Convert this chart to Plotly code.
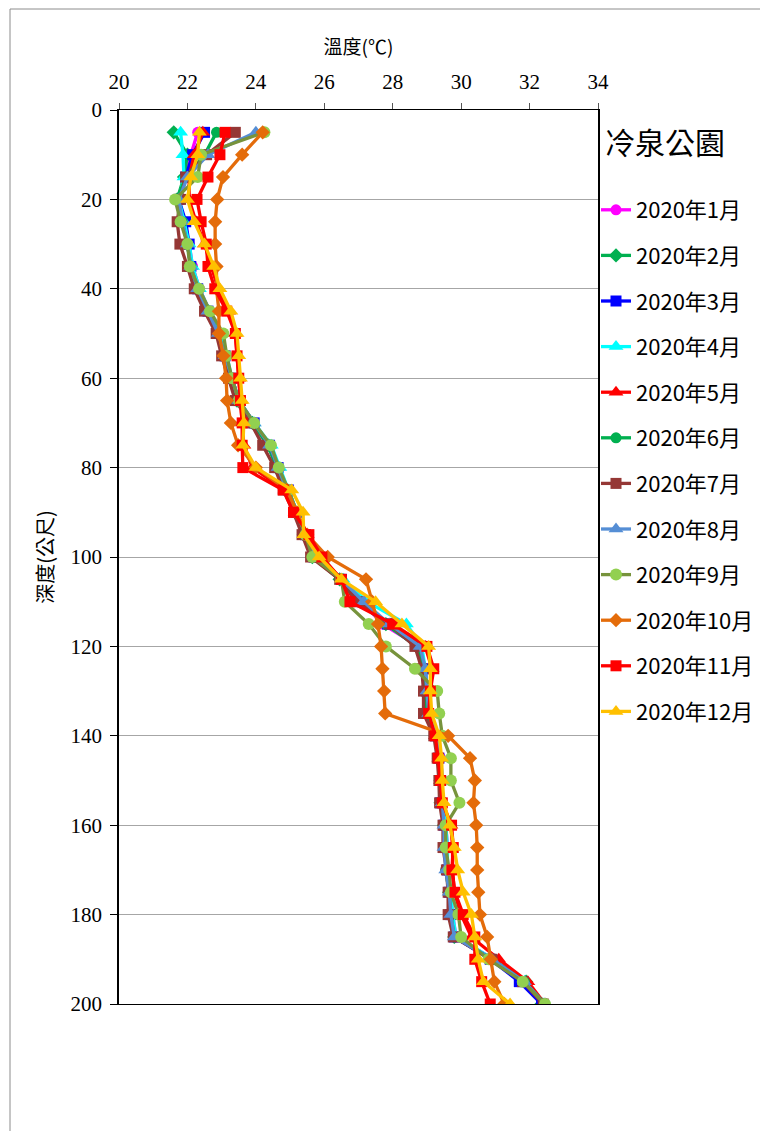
import plotly.graph_objects as go

depths = [5, 10, 15, 20, 25, 30, 35, 40, 45, 50, 55, 60, 65, 70, 75, 80, 85, 90, 95, 100,
          105, 110, 115, 120, 125, 130, 135, 140, 145, 150, 155, 160, 165, 170, 175, 180, 185, 190, 195, 200]

jan = [22.3, 22.1, 21.95, 21.75, 21.9, 22.05, 22.15, 22.35, 22.65, 22.95, 23.1, 23.3, 23.5, 23.9, 24.35, 24.65, 24.9, 25.2, 25.45, 25.7,
       26.5, 27.1, 27.7, 28.75, 28.95, 29.0, 29.05, 29.3, 29.4, 29.45, 29.45, 29.55, 29.6, 29.55, 29.7, 29.75, 29.85, 30.95, 31.85, 32.4]
feb = [21.6, 22.0, 21.9, 21.7, 21.85, 22.0, 22.1, 22.3, 22.6, 22.9, 23.1, 23.25, 23.45, 23.9, 24.35, 24.6, 24.9, 25.15, 25.4, 25.65,
       26.45, 27.05, 27.8, 28.7, 28.9, 28.95, 29.0, 29.25, 29.35, 29.4, 29.4, 29.5, 29.55, 29.6, 29.65, 29.7, 29.8, 30.9, 31.9, 32.35]
mar = [22.5, 22.15, 21.95, 21.75, 21.95, 22.05, 22.1, 22.3, 22.6, 22.9, 23.1, 23.3, 23.5, 23.95, 24.4, 24.65, 24.95, 25.2, 25.45, 25.7,
       26.5, 27.1, 27.85, 28.8, 28.95, 29.0, 29.0, 29.25, 29.35, 29.4, 29.4, 29.5, 29.55, 29.6, 29.65, 29.7, 29.8, 30.85, 31.7, 32.35]
apr = [21.8, 21.87, 21.9, 21.75, 21.9, 22.05, 22.15, 22.35, 22.65, 22.95, 23.15, 23.3, 23.5, 23.95, 24.45, 24.7, 24.95, 25.2, 25.45, 25.7,
       26.55, 27.25, 28.4, 28.85, 28.95, 29.0, 29.05, 29.3, 29.4, 29.45, 29.45, 29.55, 29.6, 29.6, 29.7, 29.75, 29.85, 30.95, 31.85, 32.4]
may = [22.45, 22.2, 22.05, 22.05, 22.25, 22.5, 22.7, 22.9, 23.2, 23.4, 23.45, 23.5, 23.55, 23.6, 23.65, 23.9, 24.85, 25.15, 25.5, 25.9,
       26.5, 26.9, 27.95, 28.95, 29.15, 29.1, 29.1, 29.25, 29.35, 29.4, 29.45, 29.7, 29.75, 29.75, 29.8, 30.0, 30.3, 31.1, 31.95, 32.45]
jun = [22.85, 22.5, 21.95, 21.7, 21.85, 22.0, 22.1, 22.3, 22.6, 22.9, 23.1, 23.3, 23.5, 23.9, 24.4, 24.65, 24.9, 25.15, 25.4, 25.65,
       26.45, 27.0, 27.8, 28.7, 28.9, 28.95, 29.0, 29.25, 29.35, 29.4, 29.4, 29.5, 29.55, 29.55, 29.65, 29.7, 29.8, 30.9, 31.85, 32.45]
jul = [23.4, 22.56, 21.95, 21.8, 21.7, 21.78, 22.0, 22.2, 22.5, 22.84, 23.0, 23.2, 23.4, 23.85, 24.2, 24.55, 24.8, 25.1, 25.35, 25.6,
       26.45, 27.0, 27.9, 28.65, 28.85, 28.9, 28.9, 29.2, 29.3, 29.35, 29.37, 29.47, 29.47, 29.57, 29.62, 29.62, 29.77, 30.9, 31.8, 32.4]
aug = [24.0, 22.6, 22.0, 21.75, 21.85, 22.0, 22.1, 22.3, 22.6, 22.9, 23.1, 23.3, 23.5, 23.95, 24.4, 24.65, 24.9, 25.2, 25.45, 25.7,
       26.5, 27.15, 27.9, 28.8, 28.95, 29.0, 29.05, 29.3, 29.4, 29.45, 29.45, 29.5, 29.5, 29.55, 29.65, 29.7, 29.8, 30.9, 31.85, 32.45]
sep = [24.25, 22.4, 22.3, 21.64, 21.8, 22.0, 22.07, 22.34, 22.66, 23.05, 23.15, 23.3, 23.5, 23.95, 24.44, 24.67, 24.95, 25.2, 25.45, 25.65,
       26.5, 26.6, 27.3, 27.8, 28.65, 29.3, 29.36, 29.45, 29.7, 29.7, 29.95, 29.55, 29.55, 29.65, 29.7, 29.92, 30.0, 30.8, 31.8, 32.45]
oct_ = [24.2, 23.6, 23.04, 22.87, 22.81, 22.81, 22.85, 22.85, 22.92, 22.92, 23.05, 23.13, 23.16, 23.27, 23.48, 24.0, 24.9, 25.2, 25.5, 26.1,
        27.22, 27.4, 27.57, 27.66, 27.7, 27.75, 27.78, 29.62, 30.26, 30.4, 30.36, 30.44, 30.47, 30.47, 30.5, 30.55, 30.76, 30.87, 30.97, 31.26]
nov = [23.1, 22.95, 22.6, 22.28, 22.4, 22.55, 22.6, 22.8, 23.15, 23.4, 23.45, 23.5, 23.55, 23.6, 23.6, 23.62, 24.8, 25.1, 25.55, 25.93,
       26.5, 26.75, 28.0, 29.0, 29.2, 29.1, 29.05, 29.24, 29.33, 29.4, 29.45, 29.72, 29.77, 29.73, 29.82, 30.06, 30.4, 30.4, 30.6, 30.85]
dec = [22.35, 22.3, 22.1, 22.0, 22.2, 22.5, 22.77, 22.95, 23.27, 23.45, 23.5, 23.55, 23.6, 23.65, 23.62, 24.0, 25.05, 25.38, 25.4, 25.85,
       26.5, 27.5, 28.27, 29.05, 29.1, 29.1, 29.14, 29.36, 29.43, 29.45, 29.5, 29.67, 29.8, 29.9, 30.06, 30.3, 30.4, 30.5, 30.65, 31.43]

names = ["2020年1月", "2020年2月", "2020年3月", "2020年4月", "2020年5月", "2020年6月",
         "2020年7月", "2020年8月", "2020年9月", "2020年10月", "2020年11月", "2020年12月"]
series = [jan, feb, mar, apr, may, jun, jul, aug, sep, oct_, nov, dec]
line_colors = ["#FF00FF", "#00B050", "#0000FF", "#00FFFF", "#FF0000", "#00B050",
               "#953735", "#558ED5", "#77933C", "#E46C0A", "#FF0000", "#FFC000"]
marker_colors = ["#FF00FF", "#00B050", "#0000FF", "#00FFFF", "#FF0000", "#00B050",
                 "#953735", "#558ED5", "#92D050", "#E46C0A", "#FF0000", "#FFC000"]
symbols = ["circle", "diamond", "square", "triangle-up", "triangle-up", "circle",
           "square", "triangle-up", "circle", "diamond", "square", "triangle-up"]
msizes = [11, 11, 11, 13, 13, 11, 11, 13, 12, 11, 11, 13]

ticks_x = [20, 22, 24, 26, 28, 30, 32, 34]
ticks_y = [0, 20, 40, 60, 80, 100, 120, 140, 160, 180, 200]

fig = go.Figure()
for nm, vals, lc, mc, sy, ms in zip(names, series, line_colors, marker_colors, symbols, msizes):
    fig.add_trace(go.Scatter(
        x=vals, y=depths, name=nm, mode="lines+markers", legendgroup=nm,
        line=dict(color=lc, width=3.3),
        marker=dict(color=mc, symbol=sy, size=ms),
    ))

serif = "Liberation Serif, Noto Sans CJK TC, serif"
cjk = "Noto Sans CJK TC, Liberation Serif, serif"

L, R, T, B = 119, 162, 110, 127
W, H = 760 - L - R, 1131 - T - B

def px(x):
    return (x - L) / W

def py(y):
    return (1131 - B - y) / H

fig.update_layout(
    width=760, height=1131,
    margin=dict(l=L, r=R, t=T, b=B, autoexpand=False),
    paper_bgcolor="white", plot_bgcolor="white",
    showlegend=True,
    legend=dict(
        x=px(596), xanchor="left", y=py(189), yanchor="top",
        font=dict(family=cjk, size=22, color="#000"),
        tracegroupgap=14, itemwidth=30,
        bgcolor="rgba(0,0,0,0)",
    ),
    xaxis=dict(
        side="top", range=[20, 34], tickvals=ticks_x, ticktext=[str(t) for t in ticks_x],
        showgrid=False, zeroline=False, showline=True, mirror=True,
        linecolor="#000", linewidth=1.2, ticks="outside", ticklen=6, tickcolor="#555",
        ticklabelstandoff=6,
        tickfont=dict(family=serif, size=21, color="#000"),
        title=dict(text="溫度(℃)", font=dict(family=cjk, size=19, color="#000"), standoff=9),
    ),
    yaxis=dict(
        range=[200, 0], tickvals=ticks_y, ticktext=[str(t) for t in ticks_y],
        showgrid=True, gridcolor="#A6A6A6", gridwidth=1.3, zeroline=False,
        showline=True, mirror=True, linecolor="#000", linewidth=1.5,
        ticks="outside", ticklen=7, tickcolor="#000",
        ticklabelstandoff=4,
        tickfont=dict(family=serif, size=21, color="#000"),
        title=dict(text="深度(公尺)", font=dict(family=cjk, size=20, color="#000"), standoff=12),
    ),
    annotations=[dict(
        text="冷泉公園", x=px(603), y=py(141), xref="paper", yref="paper",
        xanchor="left", yanchor="middle", showarrow=False,
        font=dict(family=cjk, size=30, color="#000"),
    )],
    shapes=[dict(
        type="rect", xref="paper", yref="paper",
        x0=px(10), x1=px(820), y0=py(1180), y1=py(9),
        line=dict(color="#8C8C8C", width=1), fillcolor="rgba(0,0,0,0)", layer="below",
    )],
)

fig.write_html(
    "out.html",
    config={"displayModeBar": False},
    post_script="document.body.style.margin='0';document.body.style.overflow='hidden';",
)
